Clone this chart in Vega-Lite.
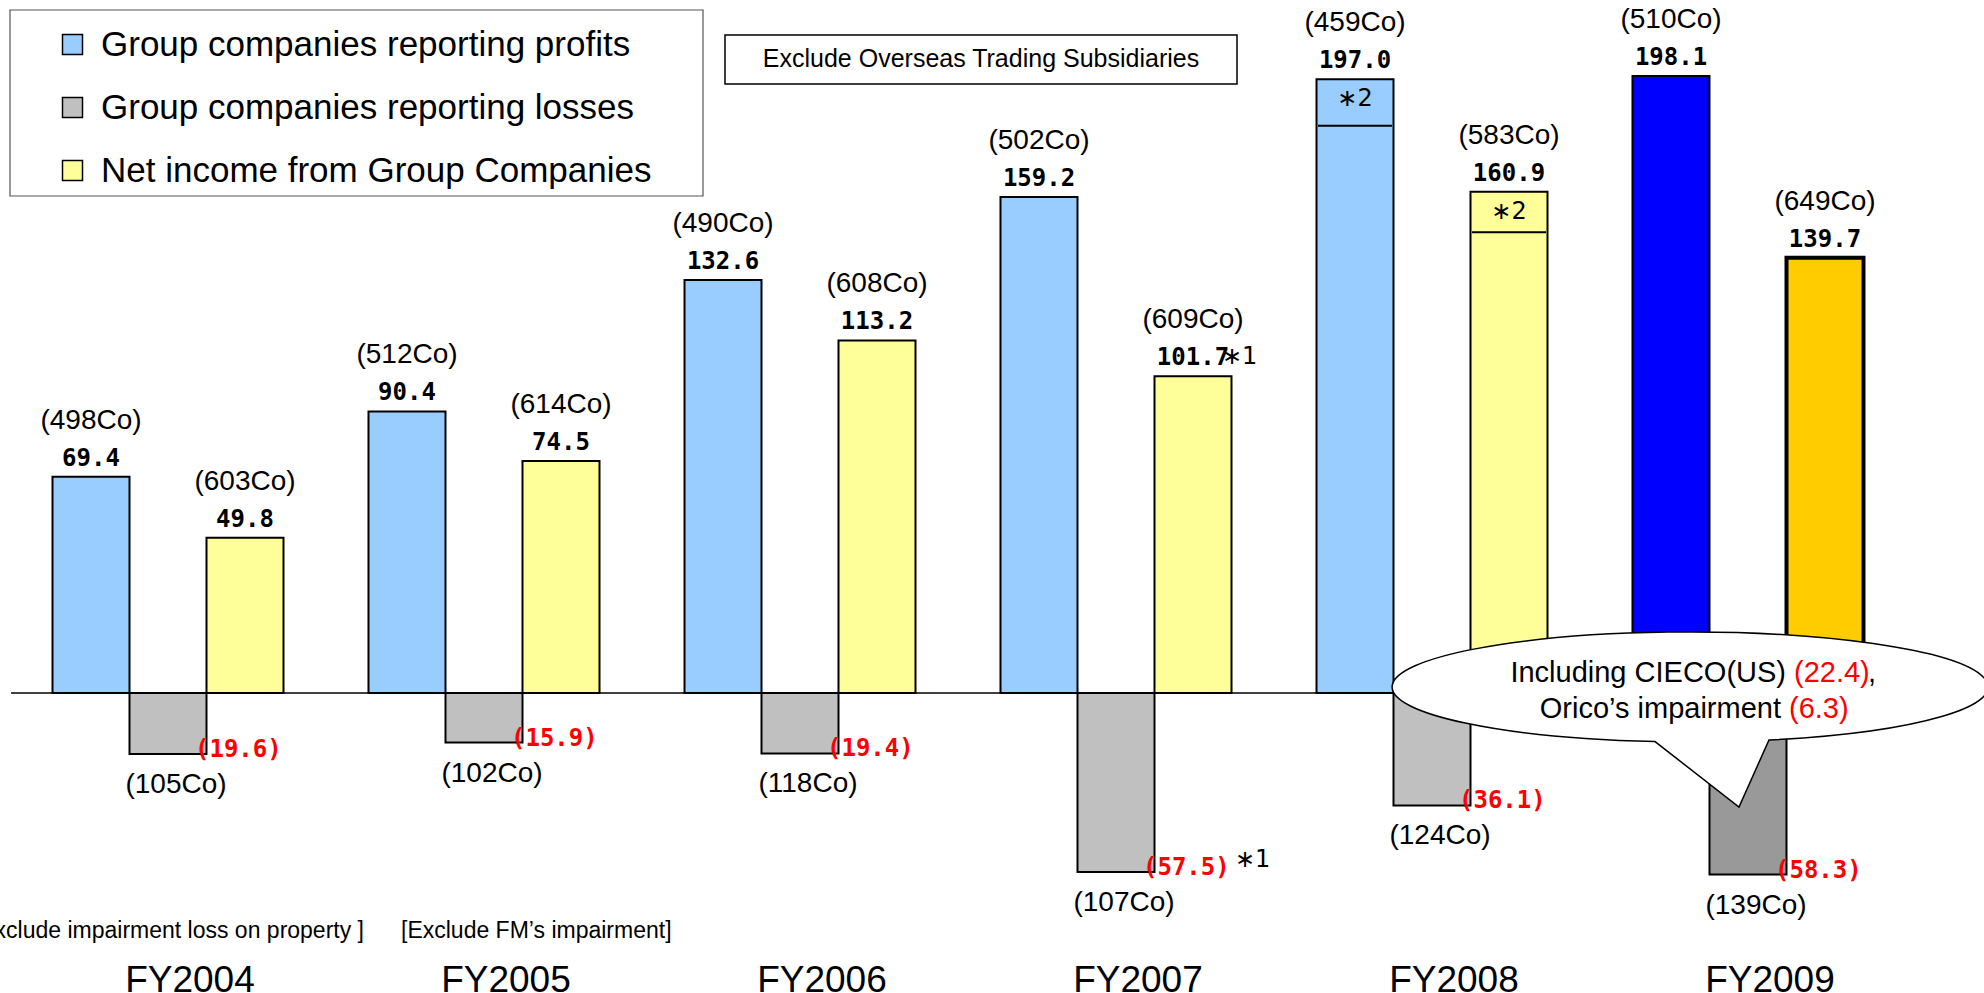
{
  "$schema": "https://vega.github.io/schema/vega-lite/v6.json",
  "width": 1984,
  "height": 993,
  "autosize": "none",
  "padding": 0,
  "background": "white",
  "config": {"view": {"stroke": null}},
  "datasets": {
    "bars": [
      {"year": "FY2004", "series": "Group companies reporting profits", "value": 69.4, "companies": 498},
      {"year": "FY2004", "series": "Group companies reporting losses", "value": -19.6, "companies": 105},
      {"year": "FY2004", "series": "Net income from Group Companies", "value": 49.8, "companies": 603},
      {"year": "FY2005", "series": "Group companies reporting profits", "value": 90.4, "companies": 512},
      {"year": "FY2005", "series": "Group companies reporting losses", "value": -15.9, "companies": 102},
      {"year": "FY2005", "series": "Net income from Group Companies", "value": 74.5, "companies": 614},
      {"year": "FY2006", "series": "Group companies reporting profits", "value": 132.6, "companies": 490},
      {"year": "FY2006", "series": "Group companies reporting losses", "value": -19.4, "companies": 118},
      {"year": "FY2006", "series": "Net income from Group Companies", "value": 113.2, "companies": 608},
      {"year": "FY2007", "series": "Group companies reporting profits", "value": 159.2, "companies": 502},
      {"year": "FY2007", "series": "Group companies reporting losses", "value": -57.5, "companies": 107},
      {"year": "FY2007", "series": "Net income from Group Companies", "value": 101.7, "companies": 609},
      {"year": "FY2008", "series": "Group companies reporting profits", "value": 197.0, "companies": 459},
      {"year": "FY2008", "series": "Group companies reporting losses", "value": -36.1, "companies": 124},
      {"year": "FY2008", "series": "Net income from Group Companies", "value": 160.9, "companies": 583},
      {"year": "FY2009", "series": "Group companies reporting profits", "value": 198.1, "companies": 510},
      {"year": "FY2009", "series": "Group companies reporting losses", "value": -58.3, "companies": 139},
      {"year": "FY2009", "series": "Net income from Group Companies", "value": 139.7, "companies": 649}
    ],
    "notes": [
      {"year": "FY2007", "series": "Net income from Group Companies", "value": 101.7, "note": "∗1", "kind": "value"},
      {"year": "FY2007", "series": "Group companies reporting losses", "value": -57.5, "note": "∗1", "kind": "loss"},
      {"year": "FY2008", "series": "Group companies reporting profits", "value": 197.0, "split": 182.1, "note": "∗2", "kind": "inside"},
      {"year": "FY2008", "series": "Net income from Group Companies", "value": 160.9, "split": 147.9, "note": "∗2", "kind": "inside"}
    ]
  },
  "layer": [
    {
      "data": {"values": [{"x": 2003.5032, "x2": 2009.7469, "y": 0}]},
      "mark": {"type": "rule", "stroke": "black", "strokeWidth": 1.5},
      "encoding": {
        "x": {"field": "x", "type": "quantitative", "scale": {"domain": [2003.4684, 2009.7469], "nice": false, "zero": false}, "axis": null},
        "x2": {"field": "x2"},
        "y": {"field": "y", "type": "quantitative", "scale": {"domain": [-96.31, 222.47], "nice": false}, "axis": null}
      }
    },
    {
      "data": {"name": "bars"},
      "encoding": {
        "x": {"field": "year", "type": "nominal", "scale": {"domain": ["FY2004", "FY2005", "FY2006", "FY2007", "FY2008", "FY2009"], "range": [10, 1906], "paddingInner": 0, "paddingOuter": 0}, "axis": null},
        "y": {"field": "value", "type": "quantitative", "scale": {"domain": [-96.31, 222.47], "nice": false}, "axis": null}
      },
      "layer": [
        {
          "mark": {"type": "bar", "stroke": "black"},
          "encoding": {
            "xOffset": {"field": "series", "type": "nominal", "scale": {"domain": ["Group companies reporting profits", "Group companies reporting losses", "Net income from Group Companies"], "paddingInner": 0, "paddingOuter": 0.552}},
            "y2": {"datum": 0},
            "fill": {
              "field": "series", "type": "nominal",
              "scale": {"domain": ["Group companies reporting profits", "Group companies reporting losses", "Net income from Group Companies"], "range": ["#99CCFF", "#C0C0C0", "#FFFF99"]},
              "condition": [
                {"test": "datum.year === 'FY2009' && datum.series === 'Group companies reporting profits'", "value": "#0000FF"},
                {"test": "datum.year === 'FY2009' && datum.series === 'Group companies reporting losses'", "value": "#999999"},
                {"test": "datum.year === 'FY2009' && datum.series === 'Net income from Group Companies'", "value": "#FFCC00"}
              ],
              "legend": {
                "title": null, "orient": "none", "legendX": 11, "legendY": 10,
                "symbolType": "square", "symbolSize": 400, "symbolStrokeColor": "black", "symbolStrokeWidth": 1.5,
                "symbolOffset": 27, "labelOffset": 11,
                "labelFont": "Liberation Sans", "labelFontSize": 35, "labelColor": "black", "labelLimit": 2000,
                "rowPadding": 27, "padding": 17
              }
            },
            "strokeWidth": {"condition": {"test": "datum.year === 'FY2009' && datum.series === 'Net income from Group Companies'", "value": 4}, "value": 2}
          }
        },
        {
          "data": {"name": "notes"},
          "transform": [{"filter": "datum.kind === 'inside'"}],
          "mark": {"type": "tick", "color": "black", "thickness": 2, "size": 74, "opacity": 1},
          "encoding": {
            "xOffset": {"field": "series", "type": "nominal", "scale": {"domain": ["Group companies reporting profits", "Group companies reporting losses", "Net income from Group Companies"], "paddingInner": 0, "paddingOuter": 0.552}},
            "y": {"field": "split", "type": "quantitative", "scale": {"domain": [-96.31, 222.47], "nice": false}, "axis": null}
          }
        },
        {
          "transform": [{"filter": "datum.value > 0"}, {"calculate": "'(' + datum.companies + 'Co)'", "as": "clabel"}],
          "mark": {"type": "text", "font": "Liberation Sans", "fontSize": 28, "baseline": "middle", "dy": -56, "color": "black"},
          "encoding": {
            "xOffset": {"field": "series", "type": "nominal", "scale": {"domain": ["Group companies reporting profits", "Group companies reporting losses", "Net income from Group Companies"], "paddingInner": 0, "paddingOuter": 0.552}},
            "text": {"field": "clabel"}
          }
        },
        {
          "transform": [{"filter": "datum.value > 0"}],
          "mark": {"type": "text", "font": "DejaVu Sans Mono", "fontWeight": "bold", "fontSize": 24, "baseline": "middle", "dy": -18, "color": "black"},
          "encoding": {
            "xOffset": {"field": "series", "type": "nominal", "scale": {"domain": ["Group companies reporting profits", "Group companies reporting losses", "Net income from Group Companies"], "paddingInner": 0, "paddingOuter": 0.552}},
            "text": {"field": "value", "format": ".1f"}
          }
        },
        {
          "transform": [{"filter": "datum.value < 0"}],
          "mark": {"type": "text", "font": "DejaVu Sans Mono", "fontWeight": "bold", "fontSize": 24, "baseline": "middle", "align": "left", "dx": 27, "dy": -4, "color": "#FF0000"},
          "encoding": {
            "xOffset": {"field": "series", "type": "nominal", "scale": {"domain": ["Group companies reporting profits", "Group companies reporting losses", "Net income from Group Companies"], "paddingInner": 0, "paddingOuter": 0.552}},
            "text": {"field": "value", "format": "(.1f"}
          }
        },
        {
          "transform": [{"filter": "datum.value < 0"}, {"calculate": "'(' + datum.companies + 'Co)'", "as": "clabel"}],
          "mark": {"type": "text", "font": "Liberation Sans", "fontSize": 28, "baseline": "middle", "dx": 8, "dy": 31, "color": "black"},
          "encoding": {
            "xOffset": {"field": "series", "type": "nominal", "scale": {"domain": ["Group companies reporting profits", "Group companies reporting losses", "Net income from Group Companies"], "paddingInner": 0, "paddingOuter": 0.552}},
            "text": {"field": "clabel"}
          }
        },
        {
          "data": {"name": "notes"},
          "transform": [{"filter": "datum.kind === 'value'"}],
          "mark": {"type": "text", "font": "DejaVu Sans", "fontSize": 24, "baseline": "middle", "align": "left", "dx": 29, "dy": -19, "color": "black"},
          "encoding": {
            "xOffset": {"field": "series", "type": "nominal", "scale": {"domain": ["Group companies reporting profits", "Group companies reporting losses", "Net income from Group Companies"], "paddingInner": 0, "paddingOuter": 0.552}},
            "text": {"field": "note"}
          }
        },
        {
          "data": {"name": "notes"},
          "transform": [{"filter": "datum.kind === 'loss'"}],
          "mark": {"type": "text", "font": "DejaVu Sans", "fontSize": 24, "baseline": "middle", "align": "left", "dx": 119, "dy": -12, "color": "black"},
          "encoding": {
            "xOffset": {"field": "series", "type": "nominal", "scale": {"domain": ["Group companies reporting profits", "Group companies reporting losses", "Net income from Group Companies"], "paddingInner": 0, "paddingOuter": 0.552}},
            "text": {"field": "note"}
          }
        },
        {
          "data": {"name": "notes"},
          "transform": [{"filter": "datum.kind === 'inside'"}],
          "mark": {"type": "text", "font": "DejaVu Sans", "fontSize": 24, "baseline": "middle", "dy": 20, "color": "black"},
          "encoding": {
            "xOffset": {"field": "series", "type": "nominal", "scale": {"domain": ["Group companies reporting profits", "Group companies reporting losses", "Net income from Group Companies"], "paddingInner": 0, "paddingOuter": 0.552}},
            "text": {"field": "note"}
          }
        }
      ]
    },
    {
      "encoding": {
        "x": {"field": "x", "type": "quantitative", "scale": {"domain": [2003.4684, 2009.7469], "nice": false, "zero": false}, "axis": null},
        "y": {"field": "y", "type": "quantitative", "scale": {"domain": [-96.31, 222.47], "nice": false}, "axis": null}
      },
      "layer": [
        {
          "data": {"values": [
            {"x": 2003.5, "x2": 2005.6931, "y": 219.26, "y2": 159.55, "box": "legend"}
          ]},
          "mark": {"type": "rect", "fill": "white", "stroke": "#555555", "strokeWidth": 1.2},
          "encoding": {"x2": {"field": "x2"}, "y2": {"field": "y2"}}
        },
        {
          "data": {"values": [{"x": 2005.7627, "x2": 2007.383, "y": 211.24, "y2": 195.51}]},
          "mark": {"type": "rect", "fill": "white", "stroke": "black", "strokeWidth": 1.5},
          "encoding": {"x2": {"field": "x2"}, "y2": {"field": "y2"}}
        },
        {
          "data": {"values": [{"x": 2006.5728, "y": 203.4, "text": "Exclude Overseas Trading Subsidiaries"}]},
          "mark": {"type": "text", "font": "Liberation Sans", "fontSize": 25, "baseline": "middle", "color": "black"},
          "encoding": {"text": {"field": "text"}}
        },
        {
          "data": {"values": [{"x": 2008.8165, "y": 1.93}]},
          "mark": {"type": "point", "filled": true, "fill": "white", "stroke": "black", "strokeWidth": 1.5, "opacity": 1, "size": 355216,
                   "shape": "M 0.2651 0.178 A 1 0.1846 0 1 0 -0.1174 0.1833 L 0.1644 0.4027 Z"},
          "encoding": {}
        },
        {
          "data": {"values": [
            {"x": 2009.1203, "y": 6.26, "text": "Including CIECO(US)"},
            {"x": 2009.1045, "y": -5.14, "text": "Orico’s impairment"}
          ]},
          "mark": {"type": "text", "font": "Liberation Sans", "fontSize": 29, "baseline": "middle", "align": "right", "color": "black"},
          "encoding": {"text": {"field": "text"}}
        },
        {
          "data": {"values": [
            {"x": 2009.1456, "y": 6.26, "text": "(22.4)"},
            {"x": 2009.1298, "y": -5.14, "text": "(6.3)"}
          ]},
          "mark": {"type": "text", "font": "Liberation Sans", "fontSize": 29, "baseline": "middle", "align": "left", "color": "#FF0000"},
          "encoding": {"text": {"field": "text"}}
        },
        {
          "data": {"values": [{"x": 2009.3798, "y": 6.26, "text": ","}]},
          "mark": {"type": "text", "font": "Liberation Sans", "fontSize": 29, "baseline": "middle", "align": "left", "color": "black"},
          "encoding": {"text": {"field": "text"}}
        },
        {
          "data": {"values": [{"x": 2004.6203, "y": -76.4, "text": "[Exclude impairment loss on property ]"}]},
          "mark": {"type": "text", "font": "Liberation Sans", "fontSize": 23, "baseline": "middle", "align": "right", "color": "black"},
          "encoding": {"text": {"field": "text"}}
        },
        {
          "data": {"values": [{"x": 2004.7374, "y": -76.4, "text": "[Exclude FM’s impairment]"}]},
          "mark": {"type": "text", "font": "Liberation Sans", "fontSize": 23, "baseline": "middle", "align": "left", "color": "black"},
          "encoding": {"text": {"field": "text"}}
        },
        {
          "data": {"values": [
            {"x": 2004, "y": -96, "label": "FY2004"},
            {"x": 2005, "y": -96, "label": "FY2005"},
            {"x": 2006, "y": -96, "label": "FY2006"},
            {"x": 2007, "y": -96, "label": "FY2007"},
            {"x": 2008, "y": -96, "label": "FY2008"},
            {"x": 2009, "y": -96, "label": "FY2009"}
          ]},
          "mark": {"type": "text", "font": "Liberation Sans", "fontSize": 37, "baseline": "alphabetic", "dx": 22, "color": "black"},
          "encoding": {"text": {"field": "label"}}
        }
      ]
    }
  ],
  "resolve": {"scale": {"x": "independent"}}
}
